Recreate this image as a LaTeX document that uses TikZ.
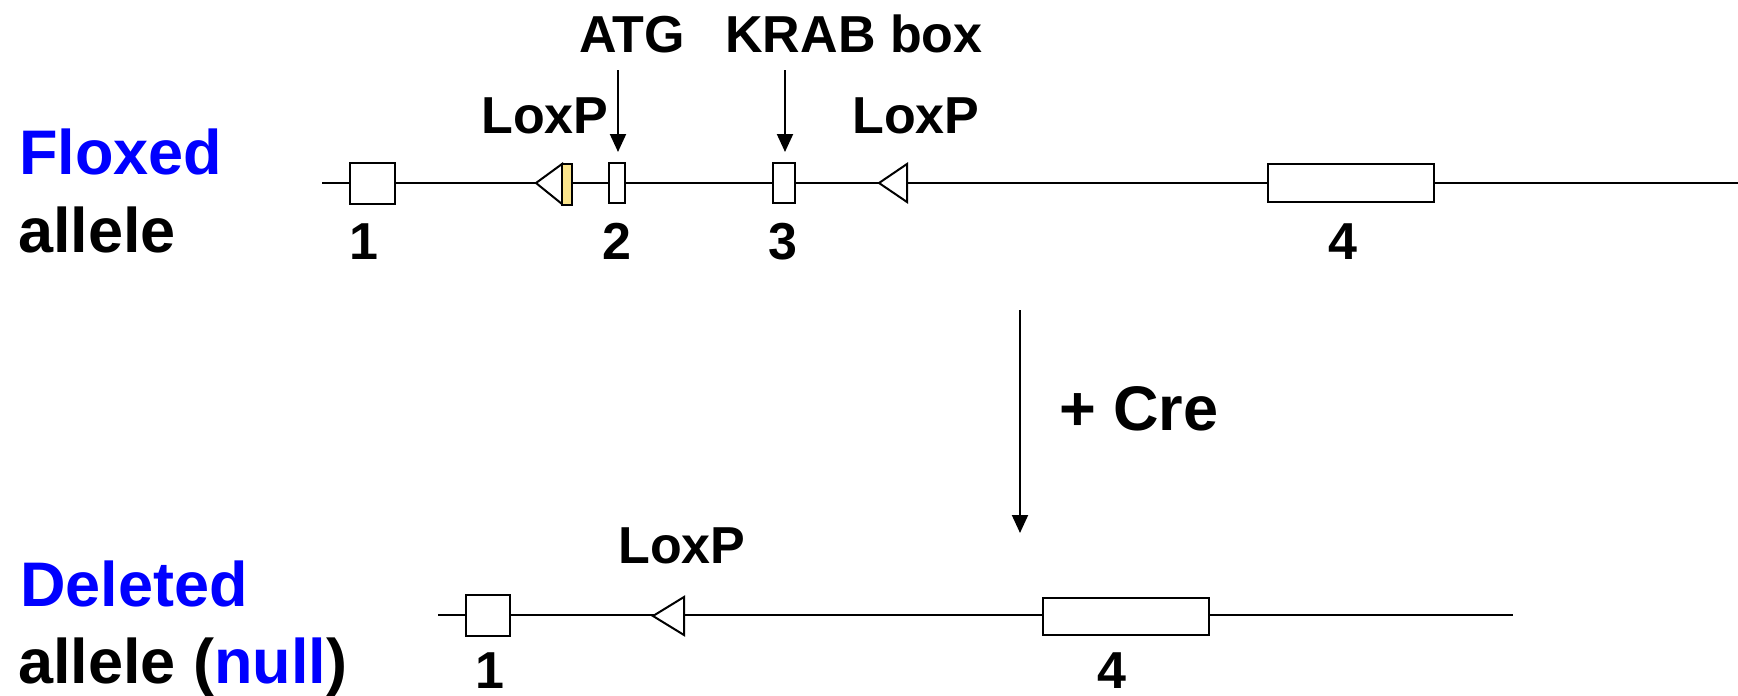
\documentclass[tikz,border=0pt]{standalone}
\usepackage{fontspec}
\setmainfont{Liberation Sans}
\usetikzlibrary{arrows.meta}
\definecolor{lblue}{RGB}{0,0,255}
\definecolor{loxyellow}{RGB}{250,228,140}
\begin{document}
\begin{tikzpicture}[x=1pt,y=-1pt,
  exon/.style={draw, line width=2pt, fill=white, inner sep=0pt},
  dna/.style={line width=2pt},
  lox/.style={draw, line width=2pt, fill=white, line join=miter},
  big/.style={font=\fontsize{63}{70}\selectfont\bfseries, inner sep=0pt, anchor=base west},
  lbl/.style={font=\fontsize{52}{60}\selectfont\bfseries, inner sep=0pt, anchor=base},
  arr/.style={line width=2pt, -{Triangle[length=18pt,width=16pt]}},
]
\useasboundingbox (0,0) rectangle (1738,696);

% left labels
\node[big, text=lblue] (flox) at (19,174) {Floxed};
\node[big] (allele1) at (18,252) {allele};
\node[big, text=lblue] (del) at (20,606) {Deleted};
\node[big] (allele2) at (18,683) {allele (\textcolor{lblue}{null})};

% floxed allele
\coordinate (tl) at (322,183);
\coordinate (tr) at (1738,183);
\draw[dna] (tl) -- (tr);
\node[exon, minimum width=45pt, minimum height=41pt] (e1) at (372.5,183.5) {};
\node[exon, minimum width=16pt, minimum height=40pt] (e2) at (616.5,183) {};
\node[exon, minimum width=22pt, minimum height=40pt] (e3) at (784,183) {};
\node[exon, minimum width=166pt, minimum height=38pt] (e4) at (1351,183) {};
\draw[lox] (536,183) -- (562,164) -- (562,204) -- cycle;
\draw[lox, fill=loxyellow] (562,164) rectangle (572,205);
\draw[lox] (879,183) -- (907,164) -- (907,202) -- cycle;

\node[lbl] (n1) at (364,259) {1};
\node[lbl] (n2) at (617,259) {2};
\node[lbl] (n3) at (783,259) {3};
\node[lbl] (n4) at (1343,259) {4};

\node[lbl] (loxl) at (545,133) {LoxP};
\node[lbl] (loxr) at (916,133) {LoxP};
\node[lbl] (atg) at (632,52) {ATG};
\node[lbl] (krab) at (854,52) {KRAB box};

\coordinate (atgs) at (618,70);
\coordinate (atge) at (618,152);
\coordinate (krabs) at (785,70);
\coordinate (krabe) at (785,152);
\draw[arr] (atgs) -- (atge);
\draw[arr] (krabs) -- (krabe);

% Cre arrow
\coordinate (cres) at (1020,310);
\coordinate (cree) at (1020,533);
\draw[arr] (cres) -- (cree);
\node[big] (cre) at (1059,430) {+ Cre};

% deleted allele
\coordinate (bl) at (438,615);
\coordinate (br) at (1513,615);
\draw[dna] (bl) -- (br);
\node[exon, minimum width=44pt, minimum height=41pt] (b1) at (488,615.5) {};
\node[exon, minimum width=166pt, minimum height=37pt] (b4) at (1126,616) {};
\draw[lox] (653,616) -- (684,597) -- (684,635) -- cycle;
\node[lbl] (loxb) at (682,563) {LoxP};
\node[lbl] (m1) at (490,688) {1};
\node[lbl] (m4) at (1112,688) {4};
\end{tikzpicture}
\end{document}
